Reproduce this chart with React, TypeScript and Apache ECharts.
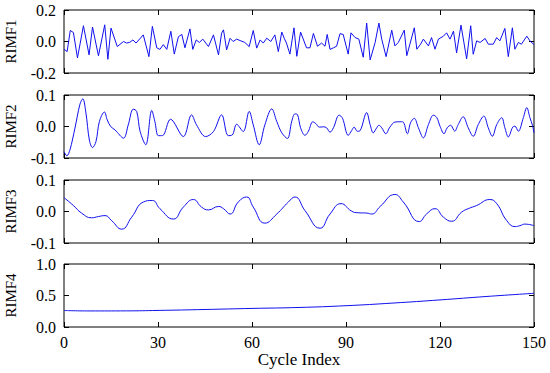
import React, { useEffect, useRef } from "react";
import * as echarts from "echarts";

const xTicks = [0, 30, 60, 90, 120, 150];
const panelNames = ["RIMF1", "RIMF2", "RIMF3", "RIMF4"];
const yRanges = [
  [-0.2, 0.2, 0.2],
  [-0.1, 0.1, 0.1],
  [-0.1, 0.1, 0.1],
  [0, 1, 0.5],
];

const rimf1: [number, number][] = [
  [0, -0.049], [1, -0.064], [2, 0.07], [3, 0.057], [4.3, -0.104], [6.2, 0.1], [8, -0.085], [9.1, 0.092],
  [11, -0.091], [13, 0.106], [14, -0.113], [15, 0.085], [17, -0.032], [19, 0], [20, -0.01], [21, -0.005],
  [22, 0.01], [23, -0.01], [25.3, 0.042], [27.1, -0.096], [28.2, 0.096], [29.6, -0.04], [30.6, -0.05],
  [31.7, -0.02], [32.8, -0.05], [34.1, 0.065], [35.2, -0.08], [36.5, 0.03], [37.6, 0.045], [38.6, -0.04],
  [40.2, 0.08], [41.1, -0.05], [42.2, 0.01], [43.2, -0.006], [44.3, 0.015], [46.1, -0.032], [47.7, 0.042],
  [49.3, -0.085], [50.3, 0.053], [50.9, 0.074], [51.9, -0.053], [53, 0.02], [54, 0], [55.1, 0.015],
  [56.2, 0.006], [57.7, -0.006], [59.1, -0.032], [60.4, 0.07], [61.5, -0.042], [62.6, 0.01], [63.6, -0.01],
  [64.7, 0.021], [66, 0], [67.3, 0.042], [68.4, -0.064], [69.5, 0.06], [70.3, 0.02], [71, -0.01],
  [72.1, -0.08], [73.4, 0.087], [74.3, -0.094], [75.5, 0.06], [77.4, -0.04], [78.5, -0.04], [79.6, 0.051],
  [80.9, -0.03], [82.2, -0.01], [83.3, -0.03], [84, 0.045], [84.9, -0.05], [86, -0.04], [87, -0.03],
  [88.1, 0.05], [89.1, 0.045], [90.7, -0.08], [91.6, 0.055], [92.9, 0.025], [94.1, 0.015], [95.5, -0.1],
  [96.6, 0.117], [97.7, -0.117], [99.3, -0.006], [100.5, 0.117], [101.4, 0.015], [102.8, -0.096],
  [104.6, 0.072], [105.6, -0.028], [106.7, -0.006], [108.6, 0.072], [109.4, -0.09], [111.8, 0.087],
  [112.6, -0.049], [113.8, -0.017], [114.7, 0.015], [116.3, -0.028], [117.3, 0.025], [118.4, -0.049],
  [119.5, 0.015], [121.1, 0.034], [122.1, 0.055], [123.2, 0.015], [124.3, 0.066], [125.3, -0.072],
  [126.7, 0.104], [128.5, -0.11], [129.8, 0.1], [130.6, -0.081], [131.7, 0.004], [132.8, -0.006],
  [134.4, 0.019], [135.4, -0.017], [137, -0.017], [138.1, 0.025], [139.1, 0.004], [140.7, 0.083],
  [141.8, -0.096], [143.1, 0.087], [143.9, -0.049], [145, -0.006], [146, -0.017], [147.7, 0.034],
  [148.7, 0.004], [150, -0.02],
];

const rimf2: [number, number][] = [
  [0, -0.08], [0.9, -0.093], [1.9, -0.074], [3.5, -0.005], [5.1, 0.071], [6, 0.088], [7, 0.043],
  [8.1, -0.043], [9.1, -0.067], [10.2, -0.048], [11.3, 0.016], [12.9, 0.046], [13.8, 0.021], [14.9, 0],
  [16.3, -0.011], [19, -0.037], [20.5, 0.005], [22.1, 0.055], [23.2, 0.048], [24.3, -0.016], [26.1, -0.058],
  [28, 0.051], [29, 0.016], [30.1, -0.029], [31.4, -0.029], [34, 0.023], [38.1, -0.032], [40.7, 0.037],
  [42.3, 0.005], [45.2, -0.032], [47.7, -0.016], [50.3, 0.037], [52.4, -0.029], [53.7, -0.027],
  [55.1, 0.007], [57.2, -0.016], [59.1, 0.048], [60.4, 0.005], [62.3, -0.058], [64.1, 0.005],
  [66.3, 0.056], [67.9, 0.016], [69.5, -0.02], [71.3, -0.038], [72.7, 0.017], [73.7, 0.04], [74.5, 0.038],
  [75.5, -0.004], [76.9, -0.028], [78, -0.015], [79.4, 0.015], [80.4, 0.009], [81.5, -0.002],
  [82.8, -0.001], [83.8, -0.004], [84.9, -0.018], [86, -0.004], [87.8, 0.036], [88.9, 0.026],
  [90.7, -0.028], [91.8, -0.013], [92.6, -0.002], [93.6, -0.015], [94.5, -0.013], [96.6, 0.044],
  [97.7, 0.006], [98.7, -0.02], [99.8, -0.004], [100.5, 0.004], [101.4, -0.004], [102.7, -0.023],
  [104, -0.002], [105.6, 0.014], [107.2, 0.015], [108.1, 0.015], [109.6, -0.023], [110.6, 0.012],
  [111.8, 0.026], [113.1, -0.004], [114.7, -0.036], [116.3, 0.006], [117.9, 0.036], [119, 0.028],
  [120, 0.001], [121.3, -0.023], [122.3, -0.004], [123.4, 0.004], [124.7, -0.015], [125.8, 0.006],
  [127.4, 0.031], [129, -0.004], [130.6, -0.031], [132.2, 0.006], [134, 0.033], [135.4, -0.004],
  [136.7, -0.031], [138.1, 0.006], [139.7, 0.028], [140.7, -0.004], [141.8, -0.033], [143.2, -0.002],
  [143.9, 0.001], [145, -0.015], [146.6, 0.028], [147.7, 0.06], [148.7, 0.028], [149.5, 0.004],
  [150, -0.02],
];

const rimf3: [number, number][] = [
  [0, 0.044], [3, 0.019], [5.6, -0.005], [8.8, -0.02], [11, -0.016], [13.1, -0.013], [15.2, -0.029],
  [18.4, -0.056], [21.6, -0.018], [25.3, 0.03], [28.2, 0.035], [30.6, 0.009], [34.9, -0.024],
  [38.1, 0.014], [41.3, 0.038], [43.9, 0.014], [46.1, 0.005], [49.3, 0.016], [50.9, 0.009],
  [53, -0.008], [55.6, 0.03], [58.3, 0.046], [60.4, 0.014], [64.1, -0.037], [67.9, -0.008],
  [71.6, 0.03], [73.7, 0.046], [76.9, 0.003], [81.7, -0.053], [84.9, -0.008], [88.4, 0.025],
  [91.8, 0.001], [93.9, -0.004], [96.6, -0.005], [98.2, -0.008], [100.9, 0.016], [105.6, 0.054],
  [108.3, 0.03], [113.4, -0.032], [115.7, -0.008], [118.4, 0.009], [121.1, -0.018], [123.7, -0.031],
  [126.9, -0.002], [129, 0.009], [131.7, 0.019], [135.9, 0.038], [138.1, 0.025], [141.3, -0.029],
  [144, -0.048], [145.5, -0.045], [147.1, -0.04], [150, -0.045],
];

const rimf4: [number, number][] = [
  [0, 0.262], [8, 0.255], [20, 0.256], [30, 0.263], [45, 0.278], [60, 0.295], [75, 0.31],
  [90, 0.338], [105, 0.38], [120, 0.43], [135, 0.485], [150, 0.535],
];

const seriesData = [rimf1, rimf2, rimf3, rimf4];
const smoothing = [false, 0.35, 0.5, 0.5];

const FONT = "'Liberation Serif', 'Times New Roman', serif";
const gridTops = [10, 95, 180, 264];
const gridH = 63;

export default function App() {
  const ref = useRef<HTMLDivElement>(null);
  useEffect(() => {
    if (!ref.current) return;
    const chart = echarts.init(ref.current, undefined, { renderer: "svg" });
    const grids: any[] = [];
    const xAxes: any[] = [];
    const yAxes: any[] = [];
    const series: any[] = [];
    const tickStyle = { show: true, inside: true, length: 5, lineStyle: { color: "#000", width: 1 } };
    panelNames.forEach((name, i) => {
      grids.push({
        left: 64,
        width: 470,
        top: gridTops[i],
        height: gridH,
        containLabel: false,
        outerBoundsMode: "none",
        show: true,
        borderColor: "#000",
        borderWidth: 1,
        backgroundColor: "transparent",
      });
      const isLast = i === panelNames.length - 1;
      const xBase = {
        type: "value",
        gridIndex: i,
        min: xTicks[0],
        max: xTicks[xTicks.length - 1],
        interval: 30,
        splitLine: { show: false },
        axisLine: { show: false, onZero: false },
        axisTick: tickStyle,
      };
      xAxes.push({
        ...xBase,
        position: "bottom",
        axisLabel: {
          show: isLast,
          fontFamily: FONT,
          fontSize: 16,
          color: "#000",
          margin: 7,
        },
        name: isLast ? "Cycle Index" : "",
        nameLocation: "middle",
        nameGap: 24,
        nameTextStyle: { fontFamily: FONT, fontSize: 17, color: "#000" },
      });
      xAxes.push({ ...xBase, position: "top", axisLabel: { show: false } });
      const [ymin, ymax, yint] = yRanges[i];
      const yBase = {
        type: "value",
        gridIndex: i,
        min: ymin,
        max: ymax,
        interval: yint,
        splitLine: { show: false },
        axisLine: { show: false, onZero: false },
        axisTick: tickStyle,
      };
      yAxes.push({
        ...yBase,
        position: "left",
        axisLabel: {
          fontFamily: FONT,
          fontSize: 16,
          color: "#000",
          margin: 8,
          formatter: (v: number) => v.toFixed(1),
        },
        name,
        nameLocation: "middle",
        nameRotate: 90,
        nameGap: 46,
        nameTextStyle: { fontFamily: FONT, fontSize: 15, color: "#000" },
      });
      yAxes.push({ ...yBase, position: "right", axisLabel: { show: false } });
      series.push({
        type: "line",
        xAxisIndex: i * 2,
        yAxisIndex: i * 2,
        data: seriesData[i],
        showSymbol: false,
        smooth: smoothing[i],
        lineStyle: { color: "#1010ee", width: 1 },
      });
    });
    chart.setOption({
      animation: false,
      backgroundColor: "#fff",
      grid: grids,
      xAxis: xAxes,
      yAxis: yAxes,
      series,
    });
    return () => chart.dispose();
  }, []);
  return (
    <div
      ref={ref}
      style={{ position: "fixed", left: 0, top: 0, width: 550, height: 373 }}
    />
  );
}
